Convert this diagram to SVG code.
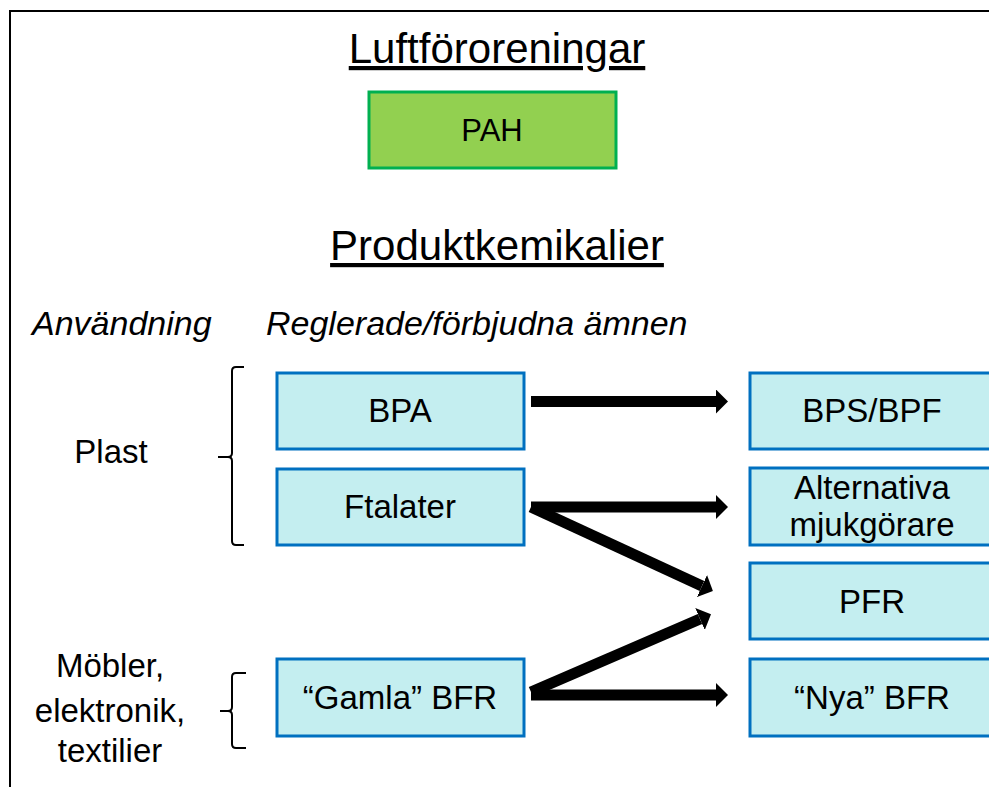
<svg xmlns="http://www.w3.org/2000/svg" width="989" height="787" viewBox="0 0 989 787">
<defs>
<style>
text{font-family:"Liberation Sans",Arial,sans-serif;fill:#000;text-anchor:middle}
.title{font-size:42px;text-decoration:underline}
.lbl{font-size:33px}
.it{font-size:34px;font-style:italic;text-anchor:start}
.side{font-size:33px}
.box{fill:#C4EEF0;stroke:#0070C0;stroke-width:3}
.pah{fill:#92D050;stroke:#00B050;stroke-width:3}
.br{fill:none;stroke:#000;stroke-width:2}
.arr{stroke:#000;stroke-width:11;fill:none;marker-end:url(#ah)}
</style>
<marker id="ah" viewBox="0 0 12 24" markerWidth="12" markerHeight="24" refX="0" refY="12" markerUnits="userSpaceOnUse" orient="auto">
<path d="M0,0 L12,12 L0,24 z" fill="#000"/>
</marker>
</defs>
<rect width="989" height="787" fill="#fff"/>
<path d="M10,787 V11 H989" fill="none" stroke="#000" stroke-width="2"/>

<text class="title" x="497" y="63">Luftföroreningar</text>
<text class="title" x="497" y="260">Produktkemikalier</text>
<text class="it" x="32" y="335">Användning</text>
<text class="it" x="266" y="335">Reglerade/förbjudna ämnen</text>

<g id="pah"><rect class="pah" x="369" y="92" width="247" height="76"/><text class="lbl" x="492" y="141" style="font-size:31px">PAH</text></g>
<g id="plast"><text class="side" x="111" y="463">Plast</text><path class="br" d="M244,367 H236 Q232,367 232,371 V453 Q232,457 228,457 H218 M228,457 Q232,457 232,461 V541 Q232,545 236,545 H244"/></g>
<g id="mobler"><text class="side" x="110" y="677">Möbler,</text><text class="side" x="110" y="722">elektronik,</text><text class="side" x="110" y="762">textilier</text><path class="br" d="M246,673 H236 Q232,673 232,677 V707 Q232,711 228,711 H220 M228,711 Q232,711 232,715 V744 Q232,748 236,748 H246"/></g>
<g id="bpa"><rect class="box" x="277" y="373" width="247" height="76"/><text class="lbl" x="400" y="422">BPA</text></g>
<g id="ftalater"><rect class="box" x="277" y="469" width="247" height="76"/><text class="lbl" x="400" y="518">Ftalater</text></g>
<g id="gamla"><rect class="box" x="277" y="659" width="247" height="77"/><text class="lbl" x="400" y="709">“Gamla” BFR</text></g>
<g id="bps"><rect class="box" x="750" y="373" width="247" height="76"/><text class="lbl" x="872" y="422">BPS/BPF</text></g>
<g id="alt"><rect class="box" x="750" y="468" width="247" height="77"/><text class="lbl" x="872" y="499">Alternativa</text><text class="lbl" x="872" y="536">mjukgörare</text></g>
<g id="pfr"><rect class="box" x="750" y="563" width="247" height="76"/><text class="lbl" x="872" y="613">PFR</text></g>
<g id="nya"><rect class="box" x="750" y="659" width="247" height="77"/><text class="lbl" x="872" y="709">“Nya” BFR</text></g>

<g id="connectors">
<line class="arr" x1="531" y1="401.5" x2="716" y2="401.5"/>
<line class="arr" x1="531" y1="507" x2="716" y2="507"/>
<line class="arr" x1="531" y1="507" x2="702" y2="586"/>
<line class="arr" x1="531" y1="692" x2="700" y2="619"/>
<line class="arr" x1="531" y1="695" x2="716" y2="695"/>
</g>
</svg>
